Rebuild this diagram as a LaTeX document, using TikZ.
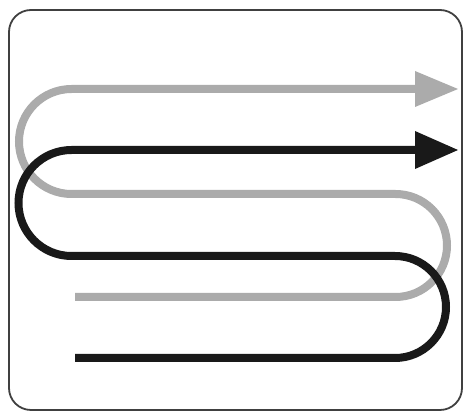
\documentclass[tikz,border=0pt]{standalone}
\begin{document}
\begin{tikzpicture}[x=1pt,y=1pt,
  frame/.style={draw=black!75, line width=1.8pt, rounded corners=22pt},
  graypath/.style={draw=black!33, line width=8pt, line cap=butt},
  blackpath/.style={draw=black!90, line width=8pt, line cap=butt},
  grayhead/.style={fill=black!33},
  blackhead/.style={fill=black!90}]
\useasboundingbox (0,0) rectangle (467,415);
\fill[white] (0,0) rectangle (467,415);
\draw[frame] (9,5) rectangle (462,405);
% gray snake
\draw[graypath] (75,118) -- (395.5,118) arc[start angle=-90,end angle=90,radius=51.5]
  -- (71.5,221) arc[start angle=270,end angle=90,radius=52.5] -- (417,326);
\fill[grayhead] (415,344) -- (458,326) -- (415,308) -- cycle;
% black snake
\draw[blackpath] (75,57) -- (395,57) arc[start angle=-90,end angle=90,radius=51]
  -- (71.5,159) arc[start angle=270,end angle=90,radius=53] -- (417,265);
\fill[blackhead] (415,284) -- (458,265) -- (415,246) -- cycle;
\end{tikzpicture}
\end{document}
